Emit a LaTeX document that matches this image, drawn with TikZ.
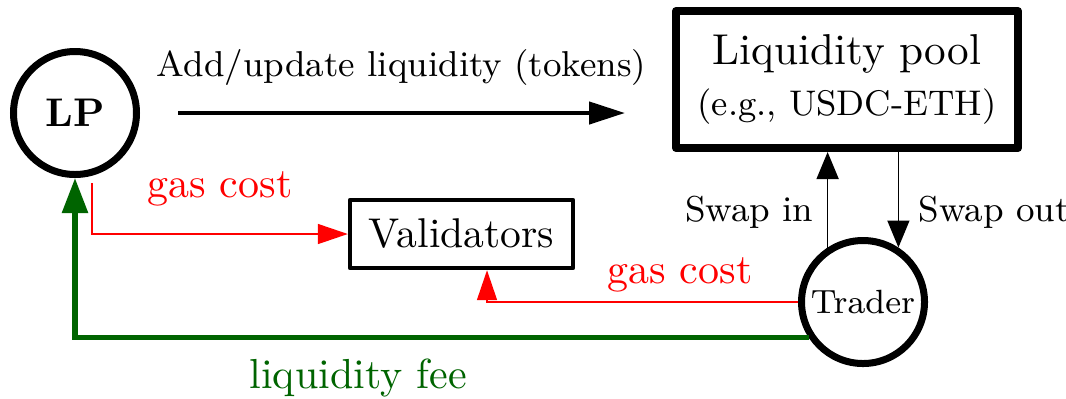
\documentclass[tikz,border=0pt]{standalone}
\usepackage{fontspec}
\usetikzlibrary{arrows.meta,calc}

\definecolor{feegreen}{RGB}{0,100,0}

\begin{document}
\begin{tikzpicture}[x=0.25pt,y=-0.25pt]
  % overall canvas
  \useasboundingbox (0,0) rectangle (1066,398);

  % styles
  \tikzset{
    party/.style={circle,draw=black,line width=1.75pt,inner sep=0pt,minimum size=30.75pt},
    poolbox/.style={draw=black,line width=2pt,line join=round,minimum width=85.5pt,
      minimum height=34.25pt,inner sep=0pt,align=center},
    valbox/.style={draw=black,line width=1.1pt,line join=round,minimum width=55.75pt,
      minimum height=17pt,inner sep=0pt},
    addflow/.style={line width=1.1pt,-{Triangle[length=9pt,width=5.5pt]}},
    swapflow/.style={line width=0.4pt,-{Triangle[length=6.75pt,width=5.5pt]}},
    gasflow/.style={red,line width=0.4pt,-{Triangle[length=7.5pt,width=5pt]}},
    feeflow/.style={feegreen,line width=1.4pt,-{Triangle[length=8.75pt,width=6.25pt]}},
    big/.style={font=\fontsize{10.5}{12.5}\selectfont},
    small/.style={font=\fontsize{9}{11}\selectfont},
  }

  % parties
  \node[party,font=\fontsize{10}{12}\selectfont\bfseries] (lp) at (75,113) {LP};
  \node[party,font=\fontsize{8.4}{10}\selectfont] (trader) at (863,302) {Trader};

  % pool and validators
  \node[poolbox,font=\fontsize{10.8}{12.75}\selectfont] (pool) at (847,79.5)
    {Liquidity pool\\\fontsize{8.9}{12.75}\selectfont (e.g., USDC-ETH)};
  \node[valbox,font=\fontsize{10.4}{12}\selectfont] (val) at (461.5,234) {Validators};

  % LP -> pool
  \draw[addflow] ($(lp.east)+(38,0)$) -- ($(pool.west |- lp.east)+(-47,0)$)
    node[midway,above=3pt,small] {Add/update liquidity (tokens)};

  % swaps between trader and pool
  \draw[swapflow] (trader.123) -- (trader.123 |- pool.south)
    node[pos=0.37,left,small] {Swap in};
  \draw[swapflow] (pool.south -| trader.57) -- (trader.57)
    node[pos=0.63,right=1.5pt,small] {Swap out};

  % gas paid to validators
  \draw[gasflow] ($(lp.south)+(17,5)$) |- (val.west)
    node[pos=0.75,above=3.5pt,big,red] {gas cost};
  \draw[gasflow] (trader.west) -| ($(val.south)+(25.5,0)$)
    node[pos=0.19,above=2.25pt,inner sep=0pt,big,red] {gas cost};

  % fee back to LP
  \draw[feeflow] (trader.213) -| (lp.south)
    node[pos=0.307,below=1.25pt,big,feegreen] {liquidity fee};
\end{tikzpicture}
\end{document}
